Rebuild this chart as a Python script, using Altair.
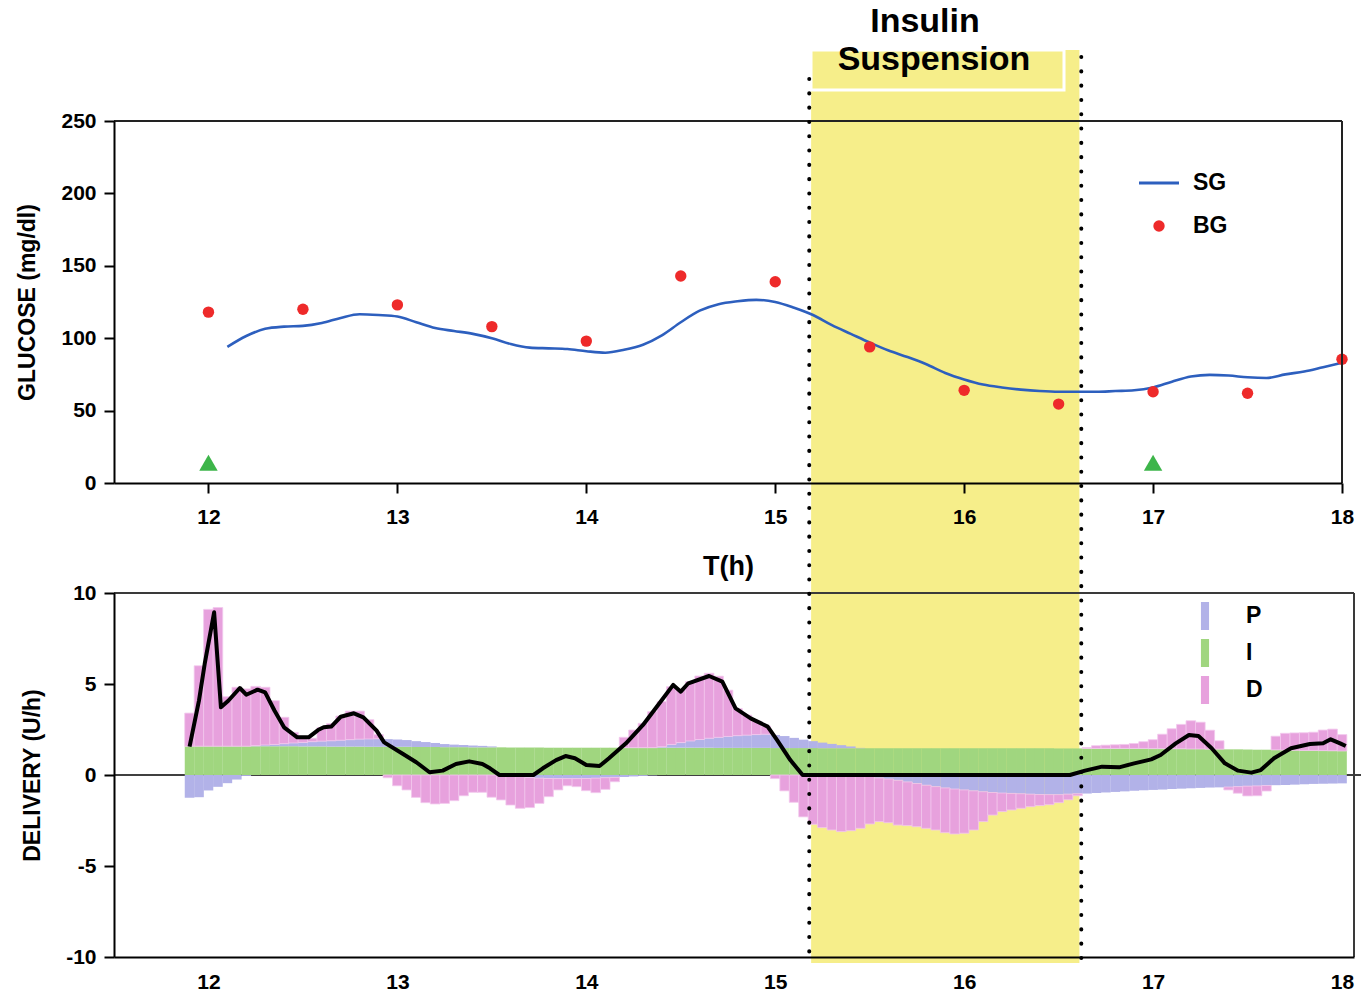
import altair as alt
import pandas as pd

# ---------------- glucose panel ----------------
BG_T = [12.0, 12.5, 13.0, 13.5, 14.0, 14.5, 15.0, 15.5, 16.0, 16.5, 17.0, 17.5, 18.0]
BG_V = [118, 120, 123, 108, 98, 143, 139, 94, 64, 54.5, 63, 62, 85.5]

SG_T = [round(12.1 + 0.1 * k, 1) for k in range(60)]
SG_V = [94, 101.5, 106.5, 108, 108.5, 110.5, 114, 116.5, 116, 115,
        111, 107, 105, 103, 100, 96, 93.5, 93, 92.5, 91,
        90, 92, 95.5, 102, 111, 119, 123.5, 125.5, 126.5, 125,
        121, 116, 109, 103, 97, 91.5, 87, 82, 76, 71.5,
        68, 66, 64.5, 63.5, 63, 63, 63, 63.5, 64, 66,
        70, 73.5, 74.7, 74.2, 73, 72.5, 75, 77, 80, 83]

MEAL_T = [12.0, 17.0]
MEAL_V = [14, 14]

# ---------------- delivery panel (P, I, D components) ----------------
BAR_T = [round(11.90 + 0.05 * k, 2) for k in range(123)]

P = [-1.25, -1.22,
     -0.85, -0.65, -0.45, -0.25, -0.05, 0.03, 0.07, 0.10, 0.14, 0.18,
     0.22, 0.26, 0.29, 0.32, 0.35, 0.38, 0.41, 0.43, 0.44, 0.42,
     0.40, 0.37, 0.32, 0.27, 0.22, 0.17, 0.14, 0.12, 0.10, 0.08,
     0.05, 0.00, -0.05, -0.10, -0.14, -0.17, -0.19, -0.20, -0.20, -0.20,
     -0.19, -0.17, -0.15, -0.13, -0.11, -0.08, -0.05, -0.02, 0.05, 0.18,
     0.28, 0.37, 0.45, 0.52, 0.58, 0.63, 0.67, 0.70, 0.73, 0.75,
     0.72, 0.66, 0.56, 0.46, 0.38, 0.31, 0.24, 0.17, 0.10, 0.02,
     -0.08, -0.16, -0.22, -0.29, -0.38, -0.47, -0.56, -0.64, -0.71, -0.77,
     -0.82, -0.87, -0.92, -0.96, -0.99, -1.01, -1.03, -1.05, -1.07, -1.08,
     -1.08, -1.05, -1.03, -1.02, -0.99, -0.96, -0.93, -0.90, -0.87, -0.84,
     -0.82, -0.80, -0.77, -0.75, -0.73, -0.71, -0.69, -0.68, -0.66, -0.64,
     -0.61, -0.60, -0.58, -0.56, -0.55, -0.53, -0.51, -0.49, -0.48, -0.47,
     -0.46]

I = [1.58, 1.58,
     1.58, 1.58, 1.58, 1.58, 1.58, 1.58, 1.58, 1.58, 1.58, 1.58,
     1.57, 1.57, 1.57, 1.56, 1.56, 1.56, 1.56, 1.55, 1.55, 1.55,
     1.55, 1.55, 1.54, 1.54, 1.54, 1.53, 1.53, 1.53, 1.52, 1.52,
     1.52, 1.52, 1.51, 1.51, 1.51, 1.51, 1.50, 1.50, 1.50, 1.50,
     1.50, 1.50, 1.50, 1.50, 1.50, 1.50, 1.50, 1.50, 1.50, 1.50,
     1.50, 1.50, 1.50, 1.50, 1.49, 1.49, 1.49, 1.49, 1.49, 1.49,
     1.48, 1.48, 1.48, 1.48, 1.48, 1.47, 1.47, 1.47, 1.47, 1.47,
     1.47, 1.47, 1.47, 1.47, 1.47, 1.47, 1.47, 1.47, 1.47, 1.47,
     1.47, 1.47, 1.47, 1.47, 1.47, 1.47, 1.47, 1.47, 1.47, 1.47,
     1.46, 1.46, 1.46, 1.46, 1.46, 1.46, 1.46, 1.46, 1.46, 1.46,
     1.45, 1.45, 1.44, 1.44, 1.43, 1.43, 1.42, 1.42, 1.41, 1.41,
     1.40, 1.39, 1.39, 1.38, 1.37, 1.36, 1.35, 1.35, 1.34, 1.33,
     1.32]

D = [1.82, 4.42,
     7.52, 7.62, 2.72, 3.24, 3.15, 3.26, 3.17, 2.40, 1.45, 0.58,
     0.27, 0.19, 0.75, 0.94, 1.33, 1.57, 1.54, 1.06, 0.23, -0.15,
     -0.59, -0.82, -1.23, -1.52, -1.59, -1.56, -1.41, -1.14, -0.95, -0.95,
     -1.22, -1.37, -1.60, -1.73, -1.65, -1.39, -1.00, -0.62, -0.39, -0.44,
     -0.67, -0.80, -0.64, -0.24, 0.57, 0.97, 1.34, 1.98, 2.48, 3.17,
     2.92, 3.26, 3.49, 3.57, 3.36, 2.54, 1.49, 1.10, 0.74, 0.44,
     -0.20, -0.87, -1.50, -2.30, -2.71, -2.89, -3.02, -3.11, -3.06, -2.93,
     -2.61, -2.40, -2.40, -2.46, -2.40, -2.37, -2.37, -2.38, -2.46, -2.47,
     -2.38, -2.15, -1.64, -1.24, -1.02, -0.91, -0.80, -0.69, -0.61, -0.55,
     -0.44, -0.31, -0.11, 0.05, 0.15, 0.18, 0.20, 0.22, 0.27, 0.37,
     0.49, 0.79, 1.10, 1.34, 1.55, 1.47, 1.04, 0.46, -0.16, -0.36,
     -0.54, -0.54, -0.30, 0.75, 0.92, 0.95, 0.97, 1.00, 1.13, 1.19,
     0.90]

# insulin actually delivered (U/h)
DEL_T = [11.90, 11.95, 11.98, 12.03, 12.066, 12.105, 12.166, 12.20, 12.26, 12.30,
         12.35, 12.40, 12.47, 12.53, 12.58, 12.61, 12.65, 12.70, 12.77, 12.82,
         12.89, 12.93, 13.03, 13.10, 13.17, 13.24, 13.31, 13.38, 13.45, 13.49,
         13.54, 13.72, 13.77, 13.84, 13.89, 13.94, 14.00, 14.07, 14.12, 14.21,
         14.30, 14.40, 14.46, 14.50, 14.54, 14.65, 14.72, 14.79, 14.87, 14.96,
         15.01, 15.08, 15.145, 16.56, 16.64, 16.73, 16.82, 16.90, 16.99, 17.04,
         17.12, 17.19, 17.24, 17.31, 17.38, 17.45, 17.52, 17.57, 17.64, 17.73,
         17.83, 17.90, 17.94, 17.99, 18.02]
DEL_V = [1.56, 4.1, 6.1, 8.94, 3.72, 4.08, 4.78, 4.41, 4.69, 4.54,
         3.53, 2.62, 2.07, 2.07, 2.47, 2.62, 2.66, 3.2, 3.39, 3.17,
         2.44, 1.79, 1.15, 0.70, 0.15, 0.24, 0.60, 0.75, 0.6, 0.37,
         0.0, 0.0, 0.37, 0.82, 1.04, 0.92, 0.55, 0.49, 0.92, 1.74,
         2.75, 4.12, 4.95, 4.58, 5.04, 5.44, 5.13, 3.66, 3.11, 2.66,
         1.92, 0.82, 0.0, 0.0, 0.24, 0.46, 0.42, 0.64, 0.86, 1.1,
         1.74, 2.2, 2.14, 1.47, 0.64, 0.24, 0.13, 0.27, 0.92, 1.47,
         1.7, 1.74, 1.96, 1.74, 1.59]

SUSPEND_START, SUSPEND_END = 15.19, 16.61      # shaded suspension period
MARK_START, MARK_END = 15.18, 16.62            # dotted boundary lines

# ---------------- layout & style ----------------
W_TOP, H_TOP = 1228, 362
W_BOT, H_BOT = 1240, 364
GAP = 110
X_MIN, X_MAX_TOP = 11.5, 18.0
X_MAX_BOT = X_MIN + (X_MAX_TOP - X_MIN) * W_BOT / W_TOP   # same hours per pixel in both panels

FONT = "Liberation Sans"
YELLOW = "#f6ee8a"
BLUE = "#2d5fbe"
RED = "#ee2a2a"
TRI_GREEN = "#3db54a"
COL_P, COL_I, COL_D = "#b2b2e8", "#a0d67f", "#e7a1dd"
FRAME = "#222222"
PLAIN_NUMBER = "'' + datum.value"   # hyphen-minus for negative tick labels

one = pd.DataFrame({"k": [0]})

# ---------------- top chart ----------------
x_top_axis = alt.Axis(values=list(range(12, 19)), labelExpr=PLAIN_NUMBER, title="T(h)",
                      titleFontSize=27, titleFontWeight="bold", titleColor="black",
                      titleY=83, titleBaseline="middle",
                      labelFontSize=21, labelFontWeight="bold", labelColor="black",
                      labelPadding=13, labelFlush=False, labelOverlap=False,
                      tickSize=10, tickWidth=2, tickColor="black",
                      domainColor="black", domainWidth=2, grid=False, zindex=1)
y_top_axis = alt.Axis(values=[0, 50, 100, 150, 200, 250], labelExpr=PLAIN_NUMBER,
                      title="GLUCOSE (mg/dl)", titleFontSize=23, titleFontWeight="bold",
                      titleColor="black", titleX=-87, titleBaseline="middle",
                      labelFontSize=21, labelFontWeight="bold", labelColor="black",
                      labelPadding=8, labelOverlap=False, labelFlush=False,
                      tickSize=10, tickWidth=2, tickColor="black",
                      domainColor="black", domainWidth=2, grid=False, zindex=1)
x_top_scale = alt.Scale(domain=[X_MIN, X_MAX_TOP], nice=False, zero=False)
y_top_scale = alt.Scale(domain=[0, 250], nice=False, zero=False)


def xt(field):
    return alt.X(field, scale=x_top_scale, axis=x_top_axis)


def yt(field):
    return alt.Y(field, scale=y_top_scale, axis=y_top_axis)


band_df = pd.DataFrame({"t": [SUSPEND_START], "t2": [SUSPEND_END]})
band = alt.Chart(band_df).mark_rect(color=YELLOW).encode(
    x=xt("t:Q"), x2="t2:Q",
    y=alt.value(-71), y2=alt.value(H_TOP + GAP + H_BOT + 6))

label_box = alt.Chart(one).mark_rect(filled=False, stroke="white", strokeWidth=3).encode(
    x=alt.value(697), x2=alt.value(950), y=alt.value(-71), y2=alt.value(-31))

title1 = alt.Chart(one).mark_text(text="Insulin", fontSize=34, fontWeight="bold",
                                  color="black", align="center", baseline="middle").encode(
    x=alt.value(811), y=alt.value(-99))
title2 = alt.Chart(one).mark_text(text="Suspension", fontSize=34, fontWeight="bold",
                                  color="black", align="center", baseline="middle").encode(
    x=alt.value(820), y=alt.value(-61))

frame_top_t = alt.Chart(one).mark_rule(color=FRAME, strokeWidth=2).encode(
    x=alt.value(0), x2=alt.value(W_TOP), y=alt.value(0))
frame_top_r = alt.Chart(one).mark_rule(color=FRAME, strokeWidth=2).encode(
    x=alt.value(W_TOP), y=alt.value(0), y2=alt.value(H_TOP))

sg_df = pd.DataFrame({"t": SG_T, "v": SG_V})
sg = alt.Chart(sg_df).mark_line(color=BLUE, strokeWidth=2.6, interpolate="monotone").encode(
    x=xt("t:Q"), y=yt("v:Q"))

bg_df = pd.DataFrame({"t": BG_T, "v": BG_V})
bg = alt.Chart(bg_df).mark_circle(color=RED, size=130, opacity=1).encode(
    x=xt("t:Q"), y=yt("v:Q"))

meal_df = pd.DataFrame({"t": MEAL_T, "v": MEAL_V})
meal = alt.Chart(meal_df).mark_point(shape="triangle-up", filled=True, color=TRI_GREEN,
                                     size=340, opacity=1).encode(x=xt("t:Q"), y=yt("v:Q"))

# legend: SG line, BG dot
leg_line = alt.Chart(one).mark_rule(color=BLUE, strokeWidth=3).encode(
    x=alt.value(1025), x2=alt.value(1065), y=alt.value(62))
leg_dot = alt.Chart(one).mark_circle(color=RED, size=130, opacity=1).encode(
    x=alt.value(1045), y=alt.value(105))
leg_sg = alt.Chart(one).mark_text(text="SG", fontSize=23, fontWeight="bold", color="black",
                                  align="left", baseline="middle").encode(
    x=alt.value(1079), y=alt.value(62))
leg_bg = alt.Chart(one).mark_text(text="BG", fontSize=23, fontWeight="bold", color="black",
                                  align="left", baseline="middle").encode(
    x=alt.value(1079), y=alt.value(105))

top = alt.layer(band, label_box, title1, title2, sg, bg, meal, frame_top_t, frame_top_r,
                leg_line, leg_dot, leg_sg, leg_bg).properties(width=W_TOP, height=H_TOP)

# ---------------- bottom chart ----------------
x_bot_axis = alt.Axis(values=list(range(12, 19)), labelExpr=PLAIN_NUMBER, title=None,
                      labelFontSize=21, labelFontWeight="bold", labelColor="black",
                      labelPadding=14, labelFlush=False, labelOverlap=False,
                      ticks=False, tickSize=0,
                      domainColor="black", domainWidth=2, grid=False, zindex=1)
y_bot_axis = alt.Axis(values=[-10, -5, 0, 5, 10], labelExpr=PLAIN_NUMBER,
                      title="DELIVERY (U/h)", titleFontSize=23, titleFontWeight="bold",
                      titleColor="black", titleX=-82, titleBaseline="middle",
                      labelFontSize=21, labelFontWeight="bold", labelColor="black",
                      labelPadding=8, labelOverlap=False, labelFlush=False,
                      tickSize=10, tickWidth=2, tickColor="black",
                      domainColor="black", domainWidth=2, grid=False, zindex=1)
x_bot_scale = alt.Scale(domain=[X_MIN, X_MAX_BOT], nice=False, zero=False)
y_bot_scale = alt.Scale(domain=[-10, 10], nice=False, zero=False)


def xb(field):
    return alt.X(field, scale=x_bot_scale, axis=x_bot_axis)


def yb(field):
    return alt.Y(field, scale=y_bot_scale, axis=y_bot_axis)


# diverging stack: I next to zero, then P, then D; negatives stack downward
rows = []
half = 0.0255
for t, p, i, d in zip(BAR_T, P, I, D):
    pos, neg = 0.0, 0.0
    for name, v in (("I", i), ("P", p), ("D", d)):
        if v >= 0:
            lo, hi = pos, pos + v
            pos = hi
        else:
            lo, hi = neg + v, neg
            neg = lo
        rows.append({"t": t - half, "t2": t + half, "lo": lo, "hi": hi, "comp": name})
bar_df = pd.DataFrame(rows)

# legend sits inside the lower panel (legend offsets are measured from the top of the figure)
comp_color = alt.Color(
    "comp:N",
    scale=alt.Scale(domain=["P", "I", "D"], range=[COL_P, COL_I, COL_D]),
    legend=alt.Legend(title=None, orient="none", legendX=1077, legendY=H_TOP + GAP + 9,
                      symbolType="M-0.29,-1H0.29V1H-0.29Z", symbolSize=784,
                      symbolStrokeWidth=0, symbolOpacity=1,
                      labelFontSize=23, labelFontWeight="bold", labelColor="black",
                      labelOffset=27, rowPadding=9, padding=0))

zero_line = alt.Chart(one).mark_rule(color="black", strokeWidth=1.6).encode(
    x=alt.value(0), x2=alt.value(W_BOT + 7), y=alt.datum(0))

bars_pi = alt.Chart(bar_df[bar_df["comp"] != "D"]).mark_rect(strokeWidth=0).encode(
    x=xb("t:Q"), x2="t2:Q", y=yb("lo:Q"), y2="hi:Q", color=comp_color)
bars_d = alt.Chart(bar_df[bar_df["comp"] == "D"]).mark_rect(
    stroke="#f3c8ee", strokeWidth=0.8).encode(
    x=xb("t:Q"), x2="t2:Q", y=yb("lo:Q"), y2="hi:Q", color=comp_color)

del_df = pd.DataFrame({"t": DEL_T, "lo": DEL_V})
delivered = alt.Chart(del_df).mark_line(color="black", strokeWidth=4, strokeJoin="round").encode(
    x=xb("t:Q"), y=yb("lo:Q"))

frame_bot_t = alt.Chart(one).mark_rule(color="#3a3a3a", strokeWidth=2).encode(
    x=alt.value(0), x2=alt.value(W_BOT), y=alt.value(0))
frame_bot_r = alt.Chart(one).mark_rule(color="#3a3a3a", strokeWidth=2).encode(
    x=alt.value(W_BOT), y=alt.value(0), y2=alt.value(H_BOT))

dot_style = dict(color="black", strokeWidth=4, strokeDash=[0.1, 14.2], strokeCap="round")
mark_l = alt.Chart(pd.DataFrame({"t": [MARK_START]})).mark_rule(**dot_style).encode(
    x=xb("t:Q"), y=alt.value(-514), y2=alt.value(H_BOT + 8))
mark_r = alt.Chart(pd.DataFrame({"t": [MARK_END]})).mark_rule(**dot_style).encode(
    x=xb("t:Q"), y=alt.value(-536), y2=alt.value(H_BOT + 2))

bottom = alt.layer(zero_line, bars_pi, bars_d, delivered, frame_bot_t, frame_bot_r,
                   mark_l, mark_r).properties(width=W_BOT, height=H_BOT)

chart = alt.vconcat(top, bottom, spacing=GAP, bounds="flush").properties(
    padding={"left": 16, "top": 5, "right": 5, "bottom": 5},
    background="white",
).configure(font=FONT).configure_view(strokeWidth=0)

chart.save("out.html", embed_options={"renderer": "svg", "actions": False})
